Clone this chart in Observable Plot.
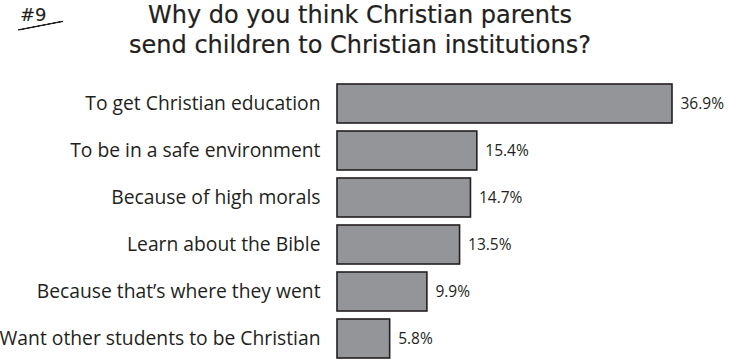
<!DOCTYPE html>
<html>
<head>
<meta charset="utf-8">
<script src="https://cdn.jsdelivr.net/npm/d3@7"></script>
<script src="https://cdn.jsdelivr.net/npm/@observablehq/plot@0.6"></script>
<style>
  html, body { margin: 0; padding: 0; background: #fff; }
  #wrap { position: relative; width: 729px; height: 361px; overflow: hidden; }
  #num { position: absolute; left: 20px; top: 6px; font: 18px/18px "DejaVu Sans", sans-serif; color: #231f20; -webkit-text-stroke: 0.1px #231f20; }
  #uline { position: absolute; left: 18px; top: 29px; width: 46px; height: 0; border-top: 2px solid #231f20; transform: rotate(-11deg); transform-origin: left center; border-radius: 2px; }
  #title { position: absolute; left: 0; top: 0px; width: 720px; text-align: center; font: 24px/30px "DejaVu Sans", sans-serif; color: #231f20; -webkit-text-stroke: 0.2px #231f20; }
  #chart { position: absolute; left: 0; top: 0; }
</style>
</head>
<body>
<div id="wrap">
  <div id="num">#9</div>
  <div id="uline"></div>
  <div id="title">Why do you think Christian parents<br>send children to Christian institutions?</div>
  <div id="chart"></div>
</div>
<script>
const categories = [
  "To get Christian education",
  "To be in a safe environment",
  "Because of high morals",
  "Learn about the Bible",
  "Because that\u2019s where they went",
  "Want other students to be Christian"
];
const values = [36.9, 15.4, 14.7, 13.5, 9.9, 5.8];
const valueLabels = ["36.9%", "15.4%", "14.7%", "13.5%", "9.9%", "5.8%"];

const data = categories.map((c, i) => ({category: c, value: values[i], label: valueLabels[i]}));

const chart = Plot.plot({
  width: 729,
  height: 361,
  marginLeft: 337,
  marginRight: 57,
  marginTop: 82,
  marginBottom: 1,
  style: {fontFamily: "'Open Sans', sans-serif", color: "#231f20", background: "transparent"},
  x: {domain: [0, 36.9], axis: null},
  y: {domain: categories, paddingInner: 0.18, paddingOuter: 0.02, axis: null},
  marks: [
    Plot.barX(data, {x: "value", y: "category", fill: "#939598", stroke: "#231f20", strokeWidth: 1.6}),
    Plot.text(data, {x: "value", y: "category", text: "label", dx: 8, textAnchor: "start", fontSize: 15.5, fill: "#231f20"}),
    Plot.axisY({tickSize: 0, tickPadding: 17, fontSize: 19.3, label: null, fill: "#231f20"})
  ]
});
document.getElementById("chart").appendChild(chart);
</script>
</body>
</html>
